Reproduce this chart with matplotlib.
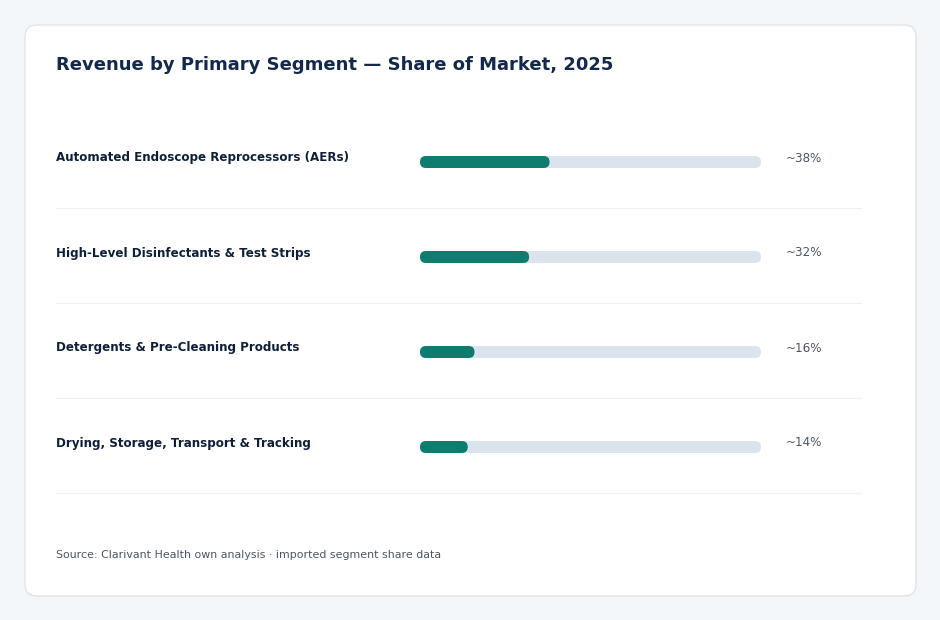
import matplotlib
matplotlib.use("Agg")
import matplotlib.pyplot as plt
from matplotlib.patches import FancyBboxPatch
from matplotlib.transforms import blended_transform_factory

plt.rcParams["font.family"] = ["DejaVu Sans"]

# data
segments = [
    "Automated Endoscope Reprocessors (AERs)",
    "High-Level Disinfectants & Test Strips",
    "Detergents & Pre-Cleaning Products",
    "Drying, Storage, Transport & Tracking",
]
shares = [38, 32, 16, 14]
value_labels = ["~38%", "~32%", "~16%", "~14%"]

title = "Revenue by Primary Segment \u2014 Share of Market, 2025"
source = "Source: Clarivant Health own analysis \u00b7 imported segment share data"

# colours
page_bg = "#f4f7fa"
card_edge = "#dde2e8"
fill_col = "#0e7c6f"
track_col = "#dbe4ee"
title_col = "#13294b"
label_col = "#0f1f3a"
value_col = "#4b5563"
sep_col = "#eef0f3"

W, H = 940, 620
fig = plt.figure(figsize=(W / 100, H / 100), dpi=100)
fig.patch.set_facecolor(page_bg)

# background axes in pixel units for the card
bg = fig.add_axes([0, 0, 1, 1])
bg.set_xlim(0, W)
bg.set_ylim(H, 0)
bg.axis("off")
card = FancyBboxPatch((25, 25), 891, 571, boxstyle="round,pad=0,rounding_size=12",
                      facecolor="white", edgecolor=card_edge, linewidth=0.9)
bg.add_patch(card)
bg.text(56, 65, title, fontsize=13, fontweight="bold", color=title_col,
        va="center", ha="left")
bg.text(56, 555, source, fontsize=7.92, color="#4a5565", va="center", ha="left")

# bar axes: x = percent, one row per segment, 95 px per row
row_px = 95
track_px = 341
top_px = 162 - row_px / 2
n = len(segments)
ax = fig.add_axes([420 / W, 1 - (top_px + n * row_px) / H, track_px / W, n * row_px / H])
ax.set_xlim(0, 100)
ax.set_ylim(n - 0.5, -0.5)
ax.axis("off")

bar_h = 12 / row_px
aspect = (1 / row_px) / (100 / track_px)
rsize = 6 * 100 / track_px

for i, (s, v, lab) in enumerate(zip(segments, shares, value_labels)):
    ax.add_patch(FancyBboxPatch((0, i - bar_h / 2), 100, bar_h,
                                boxstyle=f"round,pad=0,rounding_size={rsize}",
                                mutation_aspect=aspect, facecolor=track_col,
                                edgecolor="none", clip_on=False))
    ax.add_patch(FancyBboxPatch((0, i - bar_h / 2), v, bar_h,
                                boxstyle=f"round,pad=0,rounding_size={rsize}",
                                mutation_aspect=aspect, facecolor=fill_col,
                                edgecolor="none", clip_on=False))

trans = blended_transform_factory(fig.transFigure, ax.transData)
for i, (s, lab) in enumerate(zip(segments, value_labels)):
    ax.text(56 / W, i - 4 / row_px, s, transform=trans, fontsize=8.6,
            fontweight="bold", color=label_col, va="center", ha="left")
    ax.text(786 / W, i - 4 / row_px, lab, transform=trans, fontsize=8.6,
            color=value_col, va="center", ha="left")
    ax.plot([56 / W, 861 / W], [i + 46 / row_px] * 2, transform=trans,
            color=sep_col, linewidth=0.9, clip_on=False)

fig.savefig("out.png", dpi=100, facecolor=page_bg)
